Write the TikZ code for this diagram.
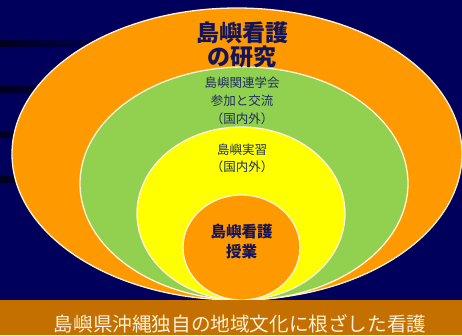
\documentclass[tikz,border=0pt]{standalone}
\usepackage{fontspec}
\newfontfamily\cjk{Noto Sans CJK JP}
\definecolor{navybg}{HTML}{00005C}
\definecolor{stripe}{HTML}{000020}
\definecolor{orangeA}{HTML}{FF9900}
\definecolor{greenA}{HTML}{92D050}
\definecolor{yellowA}{HTML}{FFFF00}
\definecolor{barA}{HTML}{C47000}
\definecolor{outl}{HTML}{FFF4D8}
\definecolor{titletxt}{HTML}{14145A}
\definecolor{midtxt}{HTML}{1C2E60}
\definecolor{bartxt}{HTML}{FBEFD8}
\tikzset{
  ring/.style={draw=outl, line width=1.3pt},
  lbl/.style={align=center, inner sep=0pt, font=\cjk},
}
\begin{document}
\begin{tikzpicture}[x=1pt,y=-1pt]
\useasboundingbox (0,0) rectangle (462,335);
\begin{scope}
\clip (0,0) rectangle (462,335);
\fill[navybg] (0,0) rectangle (462,335);
\foreach \yy in {40,86,131,176} {
  \shade[left color=stripe, right color=navybg] (0,\yy) rectangle (130,\yy+6);
}
\filldraw[ring, fill=orangeA] (237,154) ellipse [x radius=225, y radius=146];
\filldraw[ring, fill=greenA] (244,183.5) ellipse [x radius=164, y radius=116.5];
\filldraw[ring, fill=yellowA] (241,213.5) ellipse [x radius=104, y radius=86.5];
\filldraw[ring, fill=orangeA] (241.5,247.5) ellipse [x radius=58.5, y radius=52.5];
\fill[barA] (0,300) rectangle (462,335);
\end{scope}
\node[lbl, text=titletxt, font=\cjk\bfseries\fontsize{23}{24}\selectfont] (research) at (242,45) {島嶼看護\\の研究};
\node[lbl, text=midtxt, font=\cjk\fontsize{12.5}{18}\selectfont] (society) at (242,101) {島嶼関連学会\\参加と交流\\（国内外）};
\node[lbl, text=midtxt, font=\cjk\fontsize{12.5}{17.5}\selectfont] (practice) at (242,158.5) {島嶼実習\\（国内外）};
\node[lbl, text=titletxt, font=\cjk\bfseries\fontsize{15.5}{20}\selectfont] (lesson) at (241.5,242) {島嶼看護\\授業};
\node[lbl, text=bartxt, font=\cjk\fontsize{19.6}{20}\selectfont] (culture) at (240,324) {島嶼県沖縄独自の地域文化に根ざした看護};
\end{tikzpicture}
\end{document}
